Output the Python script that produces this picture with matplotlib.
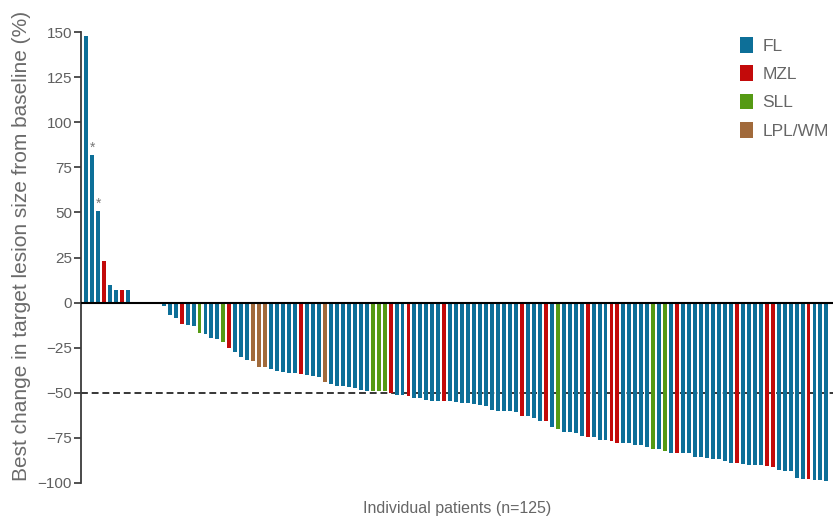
import matplotlib
matplotlib.use("Agg")
import matplotlib.pyplot as plt
from matplotlib.patches import Patch

plt.rcParams['font.family'] = ['Liberation Sans', 'DejaVu Sans']

# Best change in target lesion size (%) per patient, ordered as in the chart
values = [148, 82, 51, 23, 10, 7, 7, 7, 0, 0, 0, 0,
          -1, -2, -7, -8.6, -12, -12.3, -13.2, -16.7, -17.5, -19.6, -20.4, -21.6,
          -25.3, -27.3, -30.2, -31.6, -32.1, -35.5, -35.5, -36.9, -37.8, -38.3, -38.8, -39.2,
          -39.4, -40.3, -40.7, -41.3, -44, -45.1, -46.1, -46.3, -46.8, -47.4, -48.3, -48.8,
          -49, -49, -49, -50.3, -51, -51.3, -51.8, -53, -53, -54, -54.4, -54.4,
          -54.5, -54.6, -55.3, -55.5, -55.5, -56.1, -57, -57.4, -59.3, -60.2, -60.2, -60.2,
          -60.7, -62.7, -62.7, -64.1, -65.5, -65.5, -68.8, -70.1, -71.6, -71.9, -72.5, -73.9,
          -74.3, -74.3, -76.2, -76.2, -76.8, -77.9, -77.9, -77.9, -79, -79.2, -79.8, -81.2,
          -81.2, -82.2, -83.2, -83.2, -83.2, -83.2, -85.6, -85.6, -86.1, -86.5, -86.5, -87.6,
          -88.9, -88.9, -89.5, -90, -90, -90, -90.4, -91.4, -92.9, -93.4, -93.4, -97.4,
          -97.7, -97.7, -98.3, -98.3, -98.9]

histology = ['FL', 'FL', 'FL', 'MZL', 'FL', 'FL', 'MZL', 'FL', 'FL', 'FL', 'FL', 'FL',
             'FL', 'FL', 'FL', 'FL', 'MZL', 'FL', 'FL', 'SLL', 'FL', 'FL', 'FL', 'SLL',
             'MZL', 'FL', 'FL', 'FL', 'LPL/WM', 'LPL/WM', 'LPL/WM', 'FL', 'FL', 'FL', 'FL', 'FL',
             'MZL', 'FL', 'FL', 'FL', 'LPL/WM', 'FL', 'FL', 'FL', 'FL', 'FL', 'FL', 'FL',
             'SLL', 'SLL', 'SLL', 'MZL', 'FL', 'FL', 'MZL', 'FL', 'FL', 'FL', 'FL', 'FL',
             'MZL', 'FL', 'FL', 'FL', 'FL', 'FL', 'FL', 'FL', 'FL', 'FL', 'FL', 'FL',
             'FL', 'MZL', 'FL', 'FL', 'FL', 'MZL', 'FL', 'SLL', 'FL', 'FL', 'FL', 'FL',
             'MZL', 'FL', 'FL', 'FL', 'MZL', 'MZL', 'FL', 'FL', 'FL', 'FL', 'FL', 'SLL',
             'FL', 'SLL', 'FL', 'MZL', 'FL', 'FL', 'FL', 'FL', 'FL', 'FL', 'FL', 'FL',
             'FL', 'MZL', 'FL', 'FL', 'FL', 'FL', 'MZL', 'MZL', 'FL', 'FL', 'FL', 'FL',
             'FL', 'MZL', 'FL', 'FL', 'FL']

starred = [1, 2]  # patients marked with an asterisk

categories = ['FL', 'MZL', 'SLL', 'LPL/WM']
colors = {'FL': '#0d6f98', 'MZL': '#c30a0a', 'SLL': '#559a14', 'LPL/WM': '#a16a3b'}
yticks = [150, 125, 100, 75, 50, 25, 0, -25, -50, -75, -100]

fig = plt.figure(figsize=(8.33, 5.16), dpi=100)
ax = fig.add_axes([81 / 833, 1 - 483 / 516, 1 - 81 / 833, (483 - 32) / 516])

x = list(range(len(values)))
ax.bar(x, values, width=0.66, color=[colors[h] for h in histology], linewidth=0, zorder=2)

for i in starred:
    ax.text(i, values[i] + 4, '*', ha='center', va='center', fontsize=10, color='#777777', zorder=3)

ax.axhline(0, color='black', lw=1.5, zorder=3)
ax.axhline(-50, color='black', lw=1.1, ls=(0, (4.5, 2.5)), zorder=1)

ax.set_ylim(-100, 150)
ax.set_xlim(-0.85, 125.1)
ax.set_yticks(yticks)
ax.set_yticklabels([str(t).replace('-', '\u2212') for t in yticks])
ax.tick_params(axis='y', length=5, width=1.2, color='#333333', labelsize=11,
               labelcolor='#5f5f5f', pad=1.5)
ax.set_xticks([])
for s in ['top', 'right', 'bottom']:
    ax.spines[s].set_visible(False)
ax.spines['left'].set_color('#3a3a3a')
ax.spines['left'].set_linewidth(1.3)

ax.set_xlabel('Individual patients (n=125)', fontsize=11.5, color='#666666', labelpad=13)
fig.text(22 / 833, 1 - 246 / 516, 'Best change in target lesion size from baseline (%)',
         rotation=90, ha='center', va='center', fontsize=15, color='#6a6a6a')

handles = [Patch(facecolor=colors[c], edgecolor='none') for c in categories]
fig.legend(handles, categories, loc='upper left', bbox_to_anchor=(740 / 833, 1 - 37 / 516),
           frameon=False, fontsize=12.5, handlelength=0.75, handleheight=1.0,
           handletextpad=0.55, labelspacing=0.67, borderpad=0, borderaxespad=0,
           labelcolor='#666666')

fig.savefig('out.png', dpi=100)
